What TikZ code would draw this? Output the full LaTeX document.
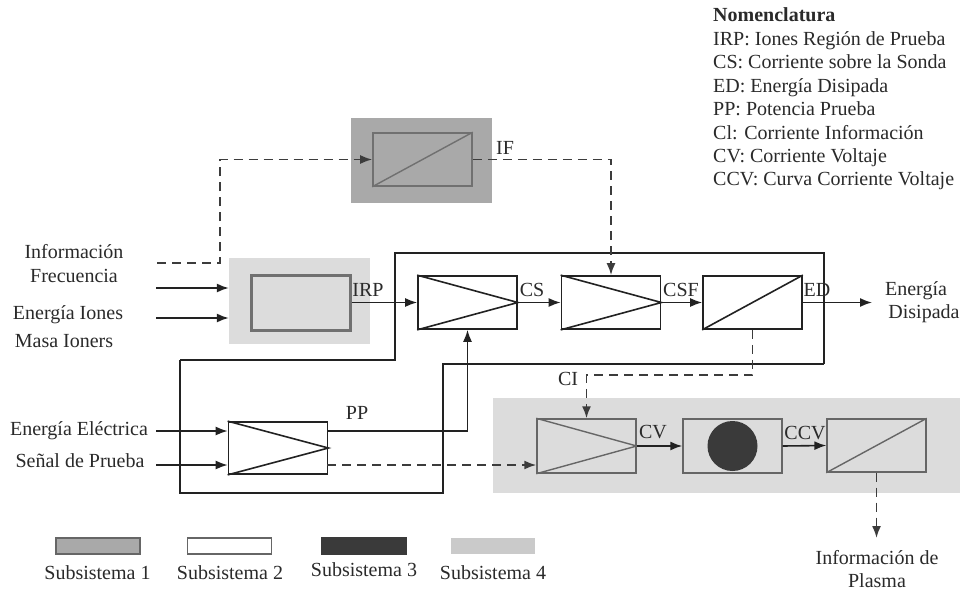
\documentclass[tikz,border=0pt]{standalone}
\usepackage{fontspec}
\setmainfont{Liberation Serif}
\usetikzlibrary{arrows.meta}
\definecolor{gone}{HTML}{A9A9A9}
\definecolor{gfour}{HTML}{DCDCDC}
\definecolor{ink}{HTML}{222222}
\definecolor{txt}{HTML}{2A2A2A}
\definecolor{dk}{HTML}{3A3A3A}
\definecolor{gline}{HTML}{707070}
\definecolor{sline}{HTML}{666666}
\definecolor{dline}{HTML}{3C3C3C}
\begin{document}
\begin{tikzpicture}[x=1pt,y=-1pt,
  lbl/.style={inner sep=0pt,text=txt,font=\fontsize{20}{23}\selectfont,text height=14pt,text depth=4pt},
  bglayer/.style={inner sep=0pt,draw=none},
  blk/.style={draw=ink,line width=1.7pt,fill=white,minimum width=99pt,minimum height=53pt,inner sep=0pt},
  sblk/.style={draw=sline,line width=1.4pt,fill=gfour,minimum width=99pt,minimum height=54pt,inner sep=0pt},
  sym/.style={draw=ink,line width=1.6pt},
  ssym/.style={draw=sline,line width=1.4pt},
  tip/.style={-{Latex[length=12pt,width=9pt]}},
  arr/.style={tip,draw=ink,line width=1.6pt},
  dsh/.style={tip,draw=dline,line width=1.8pt,dash pattern=on 9pt off 6pt},
  legbox/.style={minimum width=84pt,minimum height=16pt,inner sep=0pt,line width=1.4pt}
]
\useasboundingbox (0,0) rectangle (960,594);
\fill[white] (0,0) rectangle (960,594);

% background regions
\node[bglayer,fill=gone,minimum width=141pt,minimum height=85pt] (s1bg) at (421.5,160.5) {};
\node[bglayer,fill=gfour,minimum width=141pt,minimum height=86pt] (irpbg) at (299.5,301) {};
\node[bglayer,fill=gfour,minimum width=467pt,minimum height=95pt] (sub4) at (726.5,445.5) {};

% thick feedback loop
\draw[ink,line width=2.6pt,line join=miter] (180,360) -- (395,360) -- (395,253) -- (824,253) -- (824,364);
\draw[ink,line width=1.8pt,line join=miter] (824,364) -- (443,364) -- (443,493) -- (180,493) -- (180,360);

% blocks
\node[draw=gline,line width=1.6pt,fill=gone,minimum width=99pt,minimum height=53pt,inner sep=0pt] (s1) at (422.5,159.5) {};
\draw[gline,line width=1.4pt] (s1.south west) -- (s1.north east);

\node[draw=gline,line width=3pt,fill=gfour,minimum width=99pt,minimum height=55pt,inner sep=0pt] (irp) at (300.5,302.5) {};

\node[blk] (b1) at (467.5,302.5) {};
\draw[sym] (b1.north west) -- (b1.east) -- (b1.south west);
\node[blk] (b2) at (611,302.5) {};
\draw[sym] (b2.north west) -- (b2.east) -- (b2.south west);
\node[blk] (b3) at (752.5,302.5) {};
\draw[sym] (b3.south west) -- (b3.north east);

\node[blk,minimum height=52pt] (pp) at (278,448) {};
\draw[sym] (pp.north west) -- (pp.east) -- (pp.south west);

\node[sblk] (cv) at (586.5,446) {};
\draw[ssym] (cv.north west) -- (cv.east) -- (cv.south west);
\node[sblk] (cb) at (732.5,446) {};
\node[circle,fill=dk,minimum size=50pt,inner sep=0pt] (dot) at (cb.center) {};
\node[sblk,minimum height=53pt] (ccv) at (876.5,445.5) {};
\draw[ssym] (ccv.south west) -- (ccv.north east);

% connectors
\coordinate (ifin) at (157,263);
\draw[dsh] (ifin) -- ++(63,0) |- (s1.west);
\draw[dsh] (s1.east) -| (b2.north);

\coordinate (in1) at (156,288);
\coordinate (in2) at (156,318);
\draw[arr] (in1) -- (in1 -| irpbg.west);
\draw[arr] (in2) -- (in2 -| irpbg.west);

\draw[arr] (irp.east) -- (b1.west);
\draw[arr] (b1.east) -- (b2.west);
\draw[arr] (b2.east) -- (b3.west);
\coordinate (edout) at (872,302.5);
\draw[arr] (b3.east) -- (edout);

\coordinate (e1) at (156,431);
\coordinate (e2) at (156,465);
\draw[arr] (e1) -- (e1 -| pp.west);
\draw[arr] (e2) -- (e2 -| pp.west);
\coordinate (ppo) at (327,431);
\draw[arr] (ppo) -| (b1.south);
\coordinate (ppd) at (327,465);
\draw[dsh] (ppd) -- (ppd -| cv.west);

\draw[dsh] (b3.south) -- ++(0,45) -| (cv.north);
\draw[arr] (cv.east) -- (cb.west);
\draw[arr] (cb.east) -- (ccv.west);
\coordinate (plasma) at (876.5,538);
\draw[dsh] (ccv.south) -- (plasma);

% connector labels
\node[lbl] (lif) at (505,149) {IF};
\node[lbl] (lirp) at (368,291) {IRP};
\node[lbl] (lcs) at (532,291) {CS};
\node[lbl] (lcsf) at (681,291) {CSF};
\node[lbl] (led) at (817,291) {ED};
\node[lbl] (lpp) at (357,414) {PP};
\node[lbl] (lci) at (568,380) {CI};
\node[lbl] (lcv) at (653,433) {CV};
\node[lbl] (lccv) at (805,434) {CCV};

% side texts
\node[lbl] (t1) at (74,253) {Información};
\node[lbl] (t2) at (74,277) {Frecuencia};
\node[lbl] (t3) at (68,314) {Energía Iones};
\node[lbl] (t4) at (64,342) {Masa Ioners};
\node[lbl] (t5) at (79,430) {Energía Eléctrica};
\node[lbl] (t6) at (80,462) {Señal de Prueba};
\node[lbl] (t7) at (916,290) {Energía};
\node[lbl] (t8) at (924,313) {Disipada};
\node[lbl] (t9) at (877,559) {Información de};
\node[lbl] (t10) at (877,582) {Plasma};

% nomenclature
\node[lbl,anchor=west,font=\fontsize{20}{23}\selectfont\bfseries] (n0) at (713,17) {Nomenclatura};
\node[lbl,anchor=west] (n1) at (713,40.4) {IRP: Iones Región de Prueba};
\node[lbl,anchor=west] (n2) at (713,63.8) {CS: Corriente sobre la Sonda};
\node[lbl,anchor=west] (n3) at (713,87.2) {ED: Energía Disipada};
\node[lbl,anchor=west] (n4) at (713,110.6) {PP: Potencia Prueba};
\node[lbl,anchor=west] (n5) at (713,134) {Cl: Corriente Información};
\node[lbl,anchor=west] (n6) at (713,157.4) {CV: Corriente Voltaje};
\node[lbl,anchor=west] (n7) at (713,180.8) {CCV: Curva Corriente Voltaje};

% legend
\node[legbox,fill=gone,draw=sline] (lg1) at (98,546) {};
\node[legbox,fill=white,draw=sline] (lg2) at (229.5,546) {};
\node[legbox,fill=dk,draw=dk] (lg3) at (364,546) {};
\node[legbox,fill=gfour!92!black] (lg4) at (492.5,546) {};
\node[lbl] (lt1) at (97.5,574) {Subsistema 1};
\node[lbl] (lt2) at (230,574) {Subsistema 2};
\node[lbl] (lt3) at (364,571) {Subsistema 3};
\node[lbl] (lt4) at (493,574) {Subsistema 4};
\end{tikzpicture}
\end{document}
